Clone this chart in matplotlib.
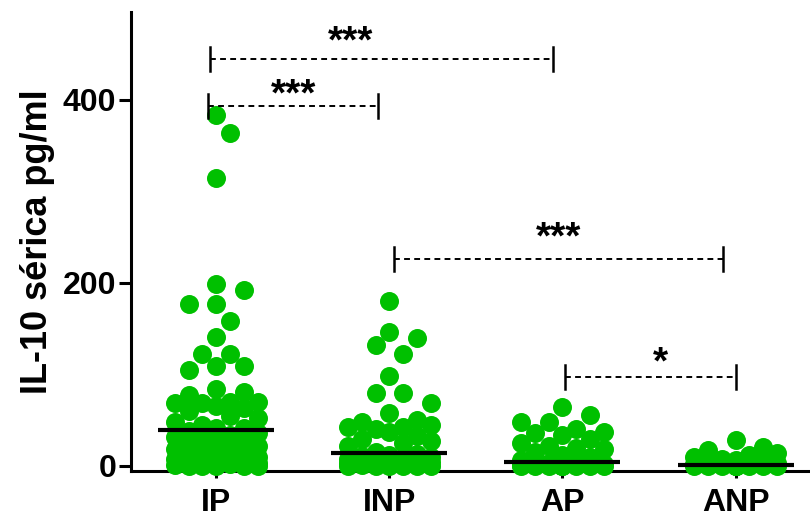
"""IL-10 serum levels by group: scatter dot plot with medians."""

import matplotlib
matplotlib.use("Agg")
import matplotlib.pyplot as plt
import numpy as np

plt.rcParams["font.family"] = ["Liberation Sans", "DejaVu Sans"]
plt.rcParams["font.weight"] = "bold"

groups = ["IP", "INP", "AP", "ANP"]

ip_values = [383, 364, 315, 199, 192, 177, 177, 158, 141, 122, 122, 109, 109, 105,
             84, 81, 78, 70, 70, 69, 69, 66, 63, 60, 55, 52, 48, 45, 42, 41,
             38, 36, 34, 32, 30, 28, 26, 24, 22, 20, 18, 17, 15, 13, 12,
             10, 9, 8, 7, 6, 5, 4, 3, 2, 1, 0, 0, 0, 0, 0]
inp_values = [180, 146, 140, 132, 122, 98, 80, 80, 69, 58, 50, 48, 45, 43, 43,
              40, 37, 33, 30, 27, 25, 22, 15,
              13, 12, 11, 10, 9, 8, 7, 6, 5, 5, 4, 3, 3, 2, 2, 1, 1,
              0, 0, 0, 0, 0, 0]
ap_values = [64, 56, 48, 48, 40, 37, 36, 34, 30, 25, 22, 20, 18, 15, 12, 10, 6,
             3, 3, 2, 2, 2, 1, 1, 1, 0, 0, 0, 0, 0, 0, 0, 0, 0]
anp_values = [28, 21, 17, 14, 12, 10, 8, 6, 5, 4, 3, 2, 2, 1, 1,
              0, 0, 0, 0, 0, 0, 0, 0, 0, 0, 0, 0]

# significance brackets: (left x, right x, bracket y, star x, star y, label)
brackets = [
    (-0.035, 1.948, 445, 0.776, 463, "***"),
    (-0.046, 0.936, 393, 0.448, 405, "***"),
    (1.030, 2.925, 226, 1.975, 248, "***"),
    (2.017, 3.000, 97, 2.567, 112, "*"),
]

GREEN = "#00c000"
DOT_D = 19.0      # dot diameter in pixels
SLOT = 13.8       # horizontal slot step in pixels
N_SLOTS = 3       # slots on each side of the centre


def swarm_offsets(values, px_x, px_y):
    """Prism-like scatter: put points into horizontal slots, avoiding overlap."""
    order = np.argsort(-np.asarray(values), kind="stable")
    placed = []
    offsets = np.zeros(len(values))
    ks = sorted(range(-N_SLOTS, N_SLOTS + 1), key=lambda k: (abs(k), k < 0))
    cands = [k * SLOT for k in ks]
    for i in order:
        y = values[i] * px_y
        best, best_d = 0.0, -1.0
        for c in cands:
            if placed:
                pts = np.array(placed)
                d = np.min(np.hypot(pts[:, 0] - c, pts[:, 1] - y))
            else:
                d = np.inf
            if d >= DOT_D * 0.95:
                best = c
                break
            if d > best_d:
                best, best_d = c, d
        placed.append((best, y))
        offsets[i] = best / px_x
    return offsets


fig = plt.figure(figsize=(8.1, 5.17), dpi=100)
ax = fig.add_axes([131 / 810, 1 - 471 / 517, (810 - 131) / 810, (471 - 12) / 517])
ax.set_xlim(-0.492, 3.43)
ax.set_ylim(-5.5, 496)

p0 = ax.transData.transform((0, 0))
p1 = ax.transData.transform((1, 1))
px_x, px_y = p1[0] - p0[0], p1[1] - p0[1]

for k, vals in enumerate([ip_values, inp_values, ap_values, anp_values]):
    vals = np.asarray(vals, dtype=float)
    xs = k + swarm_offsets(vals, px_x, px_y)
    ax.plot(xs, vals, "o", color=GREEN, markersize=DOT_D / 1.389,
            markeredgewidth=0, zorder=3, clip_on=False)
    med = np.median(vals)
    ax.plot([k - 0.335, k + 0.335], [med, med], color="black", lw=3,
            solid_capstyle="butt", zorder=4, clip_on=False)

cap = 13
for x1, x2, y, tx, ty, label in brackets:
    ax.plot([x1, x2], [y, y], color="black", lw=1.4, linestyle=(0, (3, 2.2)),
            zorder=5)
    for xe in (x1, x2):
        ax.plot([xe, xe], [y - cap, y + cap], color="black", lw=1.8, zorder=5)
    ax.text(tx, ty, label, ha="center", va="center", fontsize=28,
            fontweight="bold")

ax.spines["top"].set_visible(False)
ax.spines["right"].set_visible(False)
for s in ("left", "bottom"):
    ax.spines[s].set_linewidth(2.2)

ax.set_yticks([0, 200, 400])
ax.set_xticks(range(len(groups)))
ax.set_xticklabels(groups)
ax.tick_params(axis="y", length=8.5, width=2.2, labelsize=23, pad=2)
ax.tick_params(axis="x", length=5, width=2.2, labelsize=23, pad=7)
for lab in ax.get_xticklabels() + ax.get_yticklabels():
    lab.set_fontweight("bold")

ax.set_ylabel("IL-10 sérica pg/ml", fontsize=26, fontweight="bold", labelpad=6)

fig.savefig("out.png", dpi=100)
